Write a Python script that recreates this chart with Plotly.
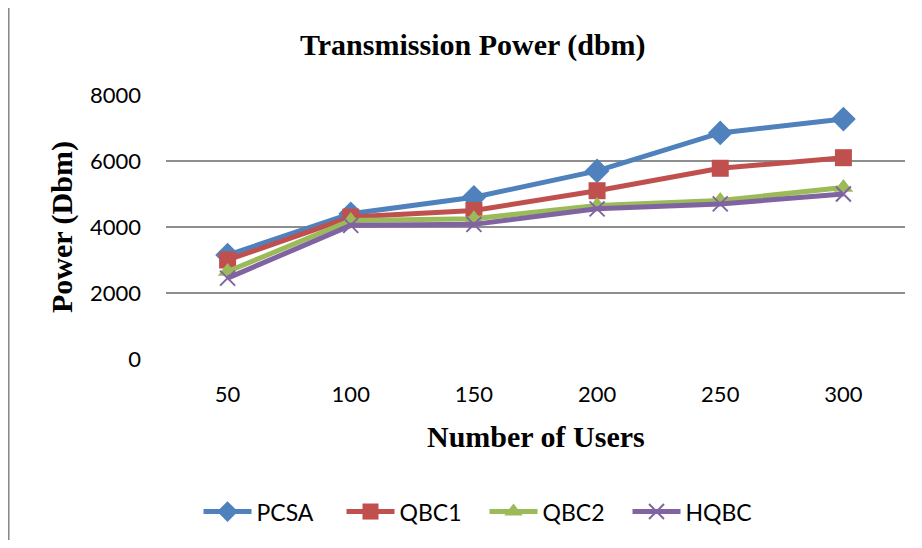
import plotly.graph_objects as go

users = ["50", "100", "150", "200", "250", "300"]
pcsa = [3150, 4400, 4900, 5700, 6850, 7270]
qbc1 = [3000, 4300, 4500, 5100, 5780, 6100]
qbc2 = [2650, 4200, 4250, 4650, 4800, 5200]
hqbc = [2450, 4050, 4080, 4550, 4700, 5000]
y_ticks = [0, 2000, 4000, 6000, 8000]

series = [
    ("PCSA", pcsa, "#4F81BD", "diamond", 19),
    ("QBC1", qbc1, "#C0504D", "square", 17),
    ("QBC2", qbc2, "#9BBB59", "triangle-up", 17),
    ("HQBC", hqbc, "#8064A2", "x-thin", 15),
]

fig = go.Figure()
for name, vals, color, sym, size in series:
    marker = dict(symbol=sym, size=size, color=color)
    if sym == "x-thin":
        marker["line"] = dict(width=2, color=color)
    fig.add_trace(go.Scatter(
        x=users, y=vals, name=name, mode="lines+markers",
        line=dict(color=color, width=5), marker=marker,
    ))

sans = "Lato"
serif = "Liberation Serif"

fig.update_layout(
    width=906, height=532,
    margin=dict(l=158, r=9, t=87, b=181, autoexpand=False),
    paper_bgcolor="white", plot_bgcolor="white",
    showlegend=True,
    legend=dict(orientation="h", x=0.431, xanchor="center", y=-0.578, yanchor="middle",
                font=dict(family=sans, size=23, color="black"), entrywidth=80,
                itemwidth=48),
    xaxis=dict(type="category", range=[-0.5, 5.5], showgrid=False, zeroline=False,
               showline=False, ticks="", tickfont=dict(family=sans, size=22, color="black"),
               ticklabelstandoff=20),
    yaxis=dict(range=[0, 8000], tickvals=y_ticks, showgrid=True, gridcolor="#8e8e8e",
               gridwidth=1.6, zeroline=False, showline=False, ticks="",
               tickfont=dict(family=sans, size=22, color="black"), ticklabelstandoff=24),
    annotations=[
        dict(text="<b>Transmission Power (dbm)</b>", xref="paper", yref="paper",
             x=0.4154, y=1.19, xanchor="center", yanchor="middle", showarrow=False,
             font=dict(family=serif, size=30, color="black")),
        dict(text="<b>Number of Users</b>", xref="paper", yref="paper",
             x=0.5, y=-0.294, xanchor="center", yanchor="middle", showarrow=False,
             font=dict(family=serif, size=30, color="black")),
        dict(text="<b>Power (Dbm)</b>", xref="paper", yref="paper",
             x=-0.1407, y=0.5, xanchor="center", yanchor="middle", showarrow=False,
             textangle=-90, font=dict(family=serif, size=30, color="black")),
    ],
    shapes=[dict(type="rect", xref="paper", yref="paper",
                 x0=-0.2131, x1=1.05, y0=-1.0, y1=1.346,
                 line=dict(color="#888888", width=2), fillcolor="rgba(0,0,0,0)",
                 layer="below")],
)
fig.write_html("out.html")
